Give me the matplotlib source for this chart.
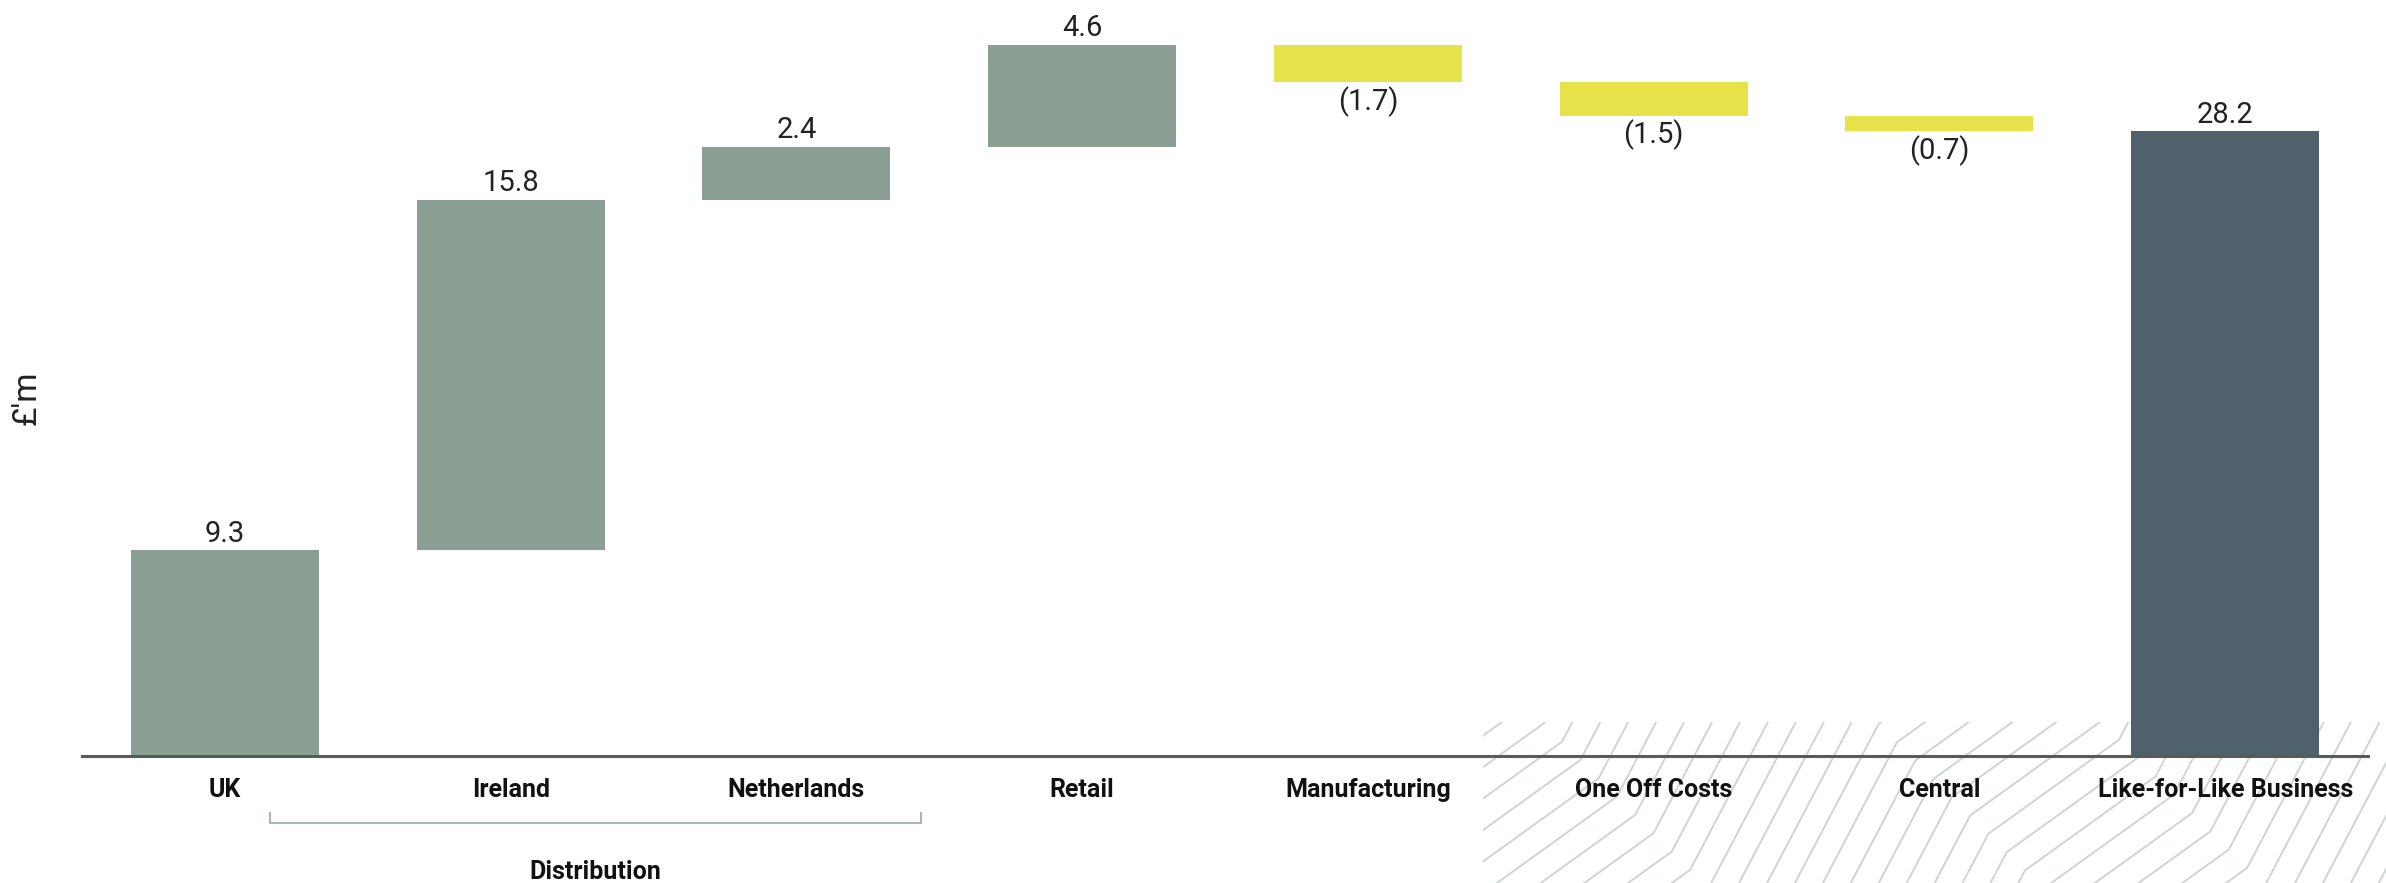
import numpy as np
import matplotlib.pyplot as plt
from matplotlib.patches import Rectangle
from matplotlib.transforms import blended_transform_factory

plt.rcParams["font.family"] = ["Roboto", "DejaVu Sans"]

categories = ["UK", "Ireland", "Netherlands", "Retail", "Manufacturing",
              "One Off Costs", "Central", "Like-for-Like Business"]
changes = [9.3, 15.8, 2.4, 4.6, -1.7, -1.5, -0.7]
total = 28.2
group_name = "Distribution"

GREEN = "#8c9f94"
YELLOW = "#e6e34a"
SLATE = "#4f616b"
HATCH = "#cdd6d0"

W, H = 2386, 883
fig = plt.figure(figsize=(W / 100, H / 100), dpi=100)

# background hatch panel behind the last three categories (pixel coordinates)
bg = fig.add_axes([0, 0, 1, 1], zorder=0)
bg.set_xlim(0, W)
bg.set_ylim(H, 0)
bg.axis("off")
clip = Rectangle((1483, 722), W - 1483, H - 722, transform=bg.transData,
                 facecolor="none", edgecolor="none")
bg.add_patch(clip)


def slope_at(u):
    # folds run diagonally; the line slope flips between steep and shallow
    if u < 1544:
        return 0.72
    if u < 1880:
        return 1.9
    if u < 2100:
        return 0.72
    return 1.9


step = 18.3
for k in range(-70, 70):
    x0 = 1880 + k * step
    y0 = 723 + k * step
    pts = [(x0, y0)]
    x, y = x0, y0
    while y < 1000 and x > 1300:
        x -= 1.0 / slope_at(x - (y - 723))
        y += 1.0
        pts.append((x, y))
    pts = pts[::-1]
    x, y = x0, y0
    while y > 600 and x < 2500:
        x += 1.0 / slope_at(x - (y - 723))
        y -= 1.0
        pts.append((x, y))
    pts = np.array(pts)
    ln, = bg.plot(pts[:, 0], pts[:, 1], color=HATCH, lw=1.4)
    ln.set_clip_path(clip)

# main waterfall
ax = fig.add_axes([82 / W, 127 / H, 2286 / W, 756 / H], zorder=1)
ax.patch.set_visible(False)

x = np.arange(len(categories))
running = np.concatenate([[0], np.cumsum(changes)[:-1]])
bottoms = list(np.where(np.array(changes) >= 0, running, running + np.array(changes)))
heights = [abs(c) for c in changes]
colors = [GREEN if c >= 0 else YELLOW for c in changes]
bottoms.append(0)
heights.append(total)
colors.append(SLATE)

ax.bar(x, heights, bottom=bottoms, width=0.658, color=colors, zorder=2)

for i, c in enumerate(changes):
    if c >= 0:
        ax.annotate(f"{c:.1f}", (x[i], bottoms[i] + heights[i]), xytext=(0, 6),
                    textcoords="offset points", ha="center", va="baseline",
                    fontsize=21, color="#222222")
    else:
        ax.annotate(f"({abs(c):.1f})", (x[i], bottoms[i]), xytext=(0, -3),
                    textcoords="offset points", ha="center", va="top",
                    fontsize=21, color="#222222")
ax.annotate(f"{total:.1f}", (x[-1], total), xytext=(0, 6),
            textcoords="offset points", ha="center", va="baseline",
            fontsize=21, color="#222222")

ax.set_xlim(-0.5, len(categories) - 0.5)
ax.set_ylim(0, 756 / 22.16)
ax.set_xticks(x)
ax.set_xticklabels(categories, fontsize=18, fontweight="bold", color="#111111")
ax.tick_params(axis="x", length=0, pad=16)
ax.set_yticks([])
for side in ["top", "left", "right"]:
    ax.spines[side].set_visible(False)
ax.spines["bottom"].set_color("#5a5a5a")
ax.spines["bottom"].set_linewidth(2.2)

fig.text(27 / W, 1 - 398 / H, "£'m", rotation=90, ha="center", va="center",
         fontsize=24, color="#222222")

# bracket grouping the distribution regions
tr = blended_transform_factory(ax.transData, fig.transFigure)
bx0, bx1 = 0.158, 2.436
by, bt = 1 - 823 / H, 1 - 813 / H
ax.plot([bx0, bx0, bx1, bx1], [bt, by, by, bt], transform=tr, color="#a9b8af",
        lw=1.5, clip_on=False)
ax.text((bx0 + bx1) / 2, 1 - 872 / H, group_name, transform=tr, ha="center",
        va="center", fontsize=18, fontweight="bold", color="#111111")

fig.savefig("out.png", dpi=100)
